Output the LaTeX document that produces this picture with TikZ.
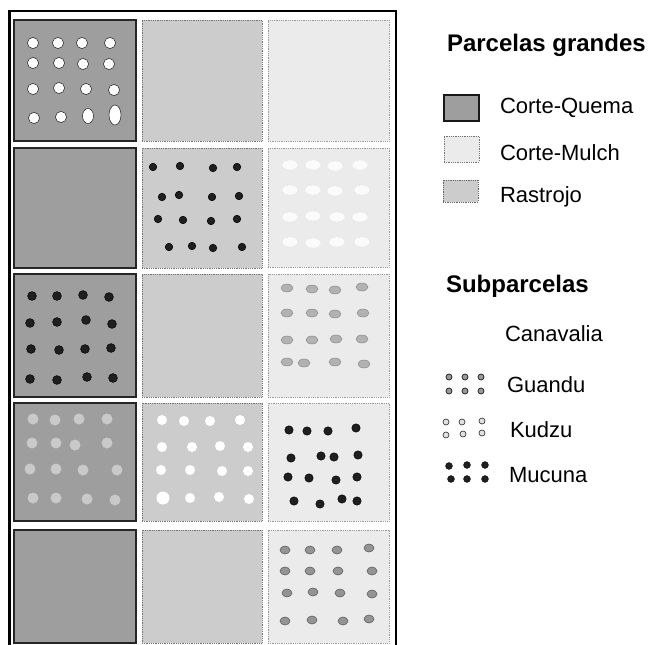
\documentclass[tikz,border=0pt]{standalone}
\usepackage{fontspec}
\setmainfont{Liberation Sans}
\begin{document}
\begin{tikzpicture}[x=1pt,y=-1pt,
  every node/.style={inner sep=0pt, outer sep=0pt},
  quema/.style={rectangle, anchor=north west, fill=black!38, draw=black!85, line width=1.4pt},
  rastrojo/.style={rectangle, anchor=north west, fill=black!20, draw=black!55, line width=0.8pt, densely dotted},
  mulch/.style={rectangle, anchor=north west, fill=black!8, draw=black!40, line width=0.8pt, densely dotted},
  canav/.style={fill=white, draw=black!80, line width=0.6pt},
  canavsoft/.style={fill=white, draw=none},
  canavfaint/.style={fill=white, fill opacity=0.8, draw=black!18, line width=0.4pt, densely dotted},
  mucuna/.style={fill=black!88, draw=black, line width=0.5pt},
  guandu/.style={fill=black!42, draw=black!65, line width=0.5pt},
  kudzu/.style={fill=black!30, draw=black!45, line width=0.5pt},
  kudzusoft/.style={fill=white, fill opacity=0.45, draw=none},
  title/.style={anchor=base west, font=\fontsize{24}{28}\selectfont\bfseries},
  label/.style={anchor=base west, font=\fontsize{22}{26}\selectfont},
  swatch/.style={rectangle, anchor=north west, minimum width=35pt, minimum height=26pt}
]
\useasboundingbox[fill=white] (0,0) rectangle (657,645);

% ---- large plots: 5 rows x 3 columns ----
\node[quema,    minimum width=122pt, minimum height=121pt] (q1) at (14,20)  {};
\node[rastrojo, minimum width=120pt, minimum height=121pt] (r1) at (142,20) {};
\node[mulch,    minimum width=121pt, minimum height=121pt] (m1) at (268,20) {};

\node[quema,    minimum width=122pt, minimum height=120pt] (q2) at (14,148)  {};
\node[rastrojo, minimum width=120pt, minimum height=120pt] (r2) at (142,148) {};
\node[mulch,    minimum width=121pt, minimum height=119pt] (m2) at (268,148) {};

\node[quema,    minimum width=122pt, minimum height=123pt] (q3) at (14,274)  {};
\node[rastrojo, minimum width=120pt, minimum height=123pt] (r3) at (142,274) {};
\node[mulch,    minimum width=121pt, minimum height=123pt] (m3) at (268,274) {};

\node[quema,    minimum width=122pt, minimum height=118pt] (q4) at (14,403)  {};
\node[rastrojo, minimum width=120pt, minimum height=118pt] (r4) at (142,403) {};
\node[mulch,    minimum width=121pt, minimum height=118pt] (m4) at (268,403) {};

\node[quema,    minimum width=122pt, minimum height=113pt] (q5) at (14,530)  {};
\node[rastrojo, minimum width=120pt, minimum height=113pt] (r5) at (142,530) {};
\node[mulch,    minimum width=121pt, minimum height=113pt] (m5) at (268,530) {};

% ---- subplots ----
% row 1, Corte-Quema: Canavalia
\foreach \x/\y in {33/43,58/43,82/43,110/43, 33/63,59/63,83/64,109/64,
                   33/89,59/88,86/89,114/90, 34/118,61/117}
  \filldraw[canav] (\x,\y) circle (5.6);
\filldraw[canav] (88,116) ellipse (5.5 and 7.5);
\filldraw[canav] (115,115) ellipse (6 and 10);

% row 2, Rastrojo: Mucuna
\foreach \x/\y in {153/167,180/166,213/168,237/167, 162/197,179/195,212/197,239/196,
                   158/219,183/220,211/221,237/219, 169/247,192/246,213/248,242/247}
  \filldraw[mucuna] (\x,\y) circle (3.8);

% row 2, Corte-Mulch: Canavalia
\foreach \x/\y in {290/165,313/165,335/166,360/165, 290/190,313/190,335/191,362/190,
                   290/217,313/216,337/217,360/217, 290/242,313/243,337/242,362/242}
  \filldraw[canavfaint] (\x,\y) ellipse (8 and 5);

% row 3, Corte-Quema: Mucuna
\foreach \x/\y in {32/296,57/296,83/295,109/297, 30/323,57/322,86/320,112/324,
                   31/349,59/350,85/349,111/348, 30/379,57/380,87/377,113/378}
  \filldraw[mucuna] (\x,\y) circle (4.4);

% row 3, Corte-Mulch: Kudzu
\foreach \x/\y in {287/288,312/289,335/290,362/287, 287/313,312/313,335/314,363/313,
                   287/340,312/340,336/339,362/339, 287/362,304/363,335/362,364/364}
  \filldraw[kudzu] (\x,\y) ellipse (6 and 4);

% row 4, Corte-Quema: Kudzu
\foreach \x/\y in {33/419,55/420,79/419,107/419, 32/443,56/443,75/445,107/443,
                   30/469,56/469,83/470,117/470, 33/498,56/498,87/499,115/500}
  \fill[kudzusoft] (\x,\y) circle (5.5);

% row 4, Rastrojo: Canavalia
\foreach \x/\y in {162/420,184/421,210/421,240/420, 162/447,192/447,220/446,248/447,
                   161/470,190/470,222/471,248/471, 190/498,219/497,249/499}
  \fill[canavsoft] (\x,\y) circle (5);
\fill[canavsoft] (163,498) circle (6.5);

% row 4, Corte-Mulch: Mucuna
\foreach \x/\y in {289/430,307/431,328/431,356/428, 291/458,321/456,334/457,358/455,
                   288/477,309/478,336/480,357/477, 294/501,320/504,342/499,357/501}
  \filldraw[mucuna] (\x,\y) circle (4.2);

% row 5, Corte-Mulch: Guandu
\foreach \x/\y in {285/550,310/550,337/550,369/548, 285/571,310/571,338/571,372/571,
                   287/593,313/592,340/593,372/594, 285/621,312/620,343/621,369/619}
  \filldraw[guandu] (\x,\y) ellipse (5 and 4);

% ---- outer frame ----
\draw[line width=3pt] (9,650) -- (9,11);
\draw[line width=2pt] (8,11) -- (397,11);
\draw[line width=2.5pt] (396,10) -- (396,650);

% ---- legend: large plots ----
\node[title] (tg) at (447,52) {Parcelas grandes};
\node[swatch, fill=black!38, draw=black!90, line width=1.3pt] (sq) at (444,95) {};
\node[label] (lq) at (500,113) {Corte-Quema};
\node[swatch, fill=black!8, draw=black!55, line width=0.8pt, densely dotted] (sm) at (444,136) {};
\node[label] (lm) at (500,160) {Corte-Mulch};
\node[swatch, fill=black!20, draw=black!60, line width=0.8pt, densely dotted, minimum height=22pt] (sr) at (443,180) {};
\node[label] (lr) at (500,202) {Rastrojo};

% ---- legend: subplots ----
\node[title] (ts) at (446,292) {Subparcelas};
\node[label] (lc) at (505,341) {Canavalia};

\foreach \x/\y in {449/377,465/377,481/377, 449/391,465/391,481/391}
  \filldraw[guandu, fill=black!40, draw=black!90, line width=0.7pt] (\x,\y) circle (3);
\node[label] (lg) at (507,392) {Guandu};

\foreach \x/\y in {446/422,462/422,482/421, 446/435,463/434,482/433}
  \filldraw[kudzu, fill=black!12, draw=black!85, line width=0.6pt] (\x,\y) circle (3);
\node[label] (lk) at (510,437) {Kudzu};

\foreach \x/\y in {449/466,467/465,485/465, 451/479,467/479,485/479}
  \filldraw[mucuna] (\x,\y) circle (3.4);
\node[label] (lmu) at (509,482) {Mucuna};
\end{tikzpicture}
\end{document}
